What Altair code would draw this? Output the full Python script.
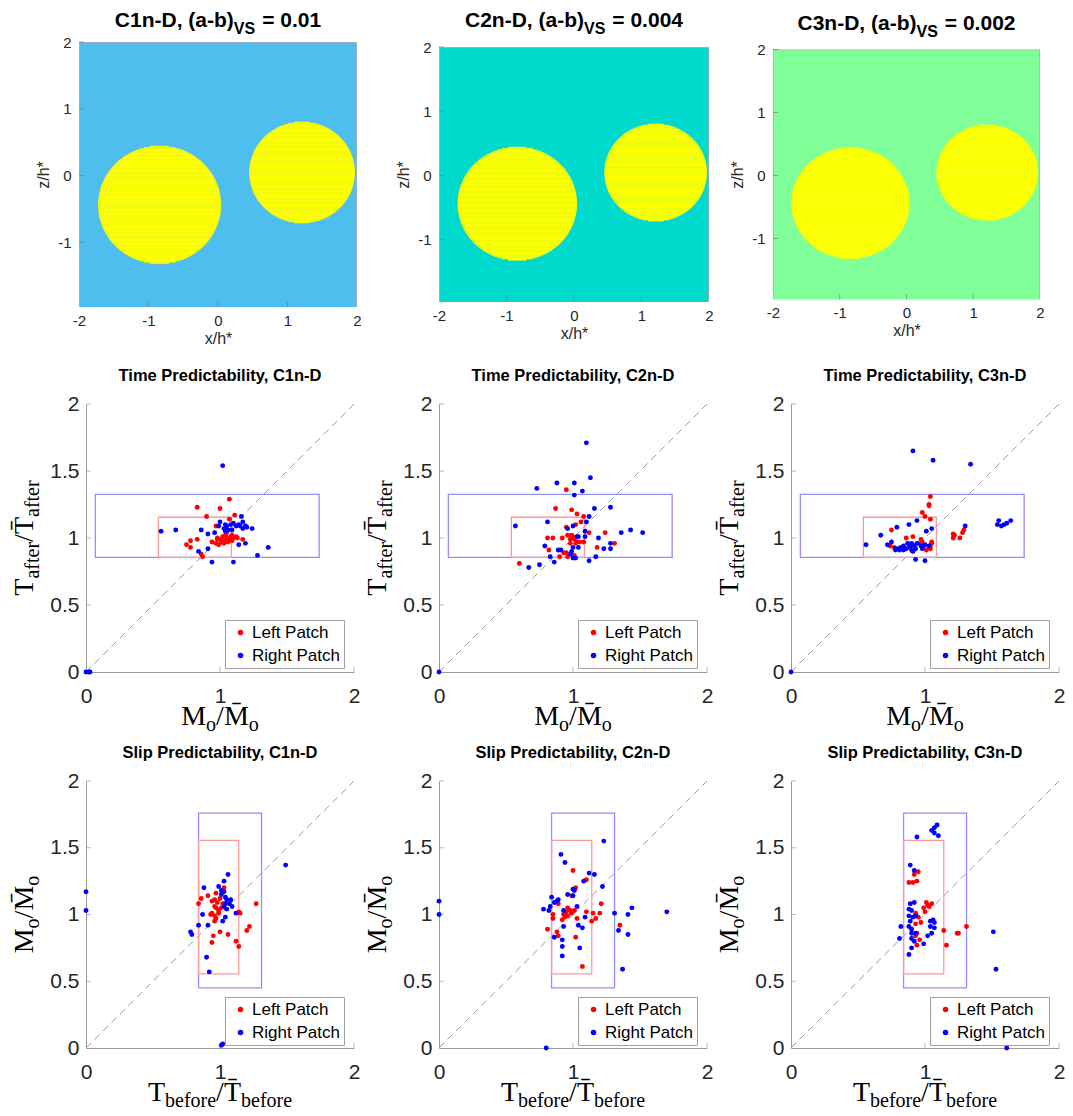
import altair as alt
import pandas as pd
import numpy as np

# ---------------- data ----------------
case_names = ["C1n-D", "C2n-D", "C3n-D"]
ab_values = ["0.01", "0.004", "0.002"]
background_colors = ["#4DBEEE", "#00DACC", "#80FF99"]
patch_color = "#FFFF00"
patch_cx = [-0.84, 1.21]
patch_cz = [-0.44, 0.045]
patch_r = [0.88, 0.755]

# rectangles: [x1, x2, y1, y2]
time_rect_blue = [0.07, 1.74, 0.855, 1.325]
time_rect_red = [0.54, 1.085, 0.855, 1.155]
slip_rect_blue = [0.84, 1.31, 0.45, 1.76]
slip_rect_red = [0.84, 1.14, 0.555, 1.555]

time_c1_left = [[1.07,1.29],[0.83,1.23],[1.00,1.22],[0.90,1.16],[1.11,1.17],[1.07,1.14],[0.97,1.09],[0.83,0.99],
    [0.78,0.98],[0.75,0.95],[0.78,0.93],[0.86,0.88],[0.87,0.86],[1.17,0.99],[0.98,1.00],[1.00,0.99],[1.01,0.97],
    [1.03,0.96],[1.01,0.99],[1.02,1.01],[1.04,1.02],[1.05,1.00],[1.07,0.99],[1.08,1.01],[1.09,1.02],[1.10,1.00],
    [1.12,1.01],[1.13,1.00],[0.99,0.95],[0.97,0.96],[1.04,0.98],[1.02,0.97],[1.06,0.97],[1.09,0.98],[0.94,0.97],
    [0.98,0.99],[1.05,1.04]]
time_c1_right = [[1.02,1.54],[0.56,1.05],[0.67,1.06],[0.86,1.06],[0.91,1.03],[0.96,1.04],[1.00,1.12],[0.99,1.09],
    [1.04,1.10],[1.03,1.07],[1.05,1.09],[1.08,1.10],[1.10,1.11],[1.12,1.09],[1.14,1.10],[1.16,1.16],[1.17,1.12],
    [1.15,1.09],[1.17,1.07],[1.19,1.09],[1.20,1.08],[1.24,1.07],[1.09,1.06],[1.06,1.06],[1.04,1.05],[1.14,0.95],
    [1.19,0.96],[1.36,0.93],[1.28,0.87],[1.10,0.82],[0.94,0.82],[0.84,0.90],[0.91,0.92],[0.0,0.0],[0.02,0.0],[0.03,0.0]]

time_c2_left = [[0.95,1.36],[0.87,1.22],[0.99,1.21],[1.03,1.18],[1.08,1.16],[1.06,1.12],[1.02,1.10],[0.95,1.08],
    [1.12,1.04],[1.24,1.04],[0.96,1.02],[0.99,1.02],[0.85,1.00],[0.81,1.00],[0.92,1.00],[0.98,0.99],[1.01,0.99],
    [1.03,0.97],[1.05,0.97],[1.08,0.97],[0.98,0.96],[1.02,0.96],[1.18,0.93],[1.31,0.96],[0.82,0.91],[0.93,0.89],
    [0.95,0.89],[1.01,0.87],[0.90,0.86],[0.96,0.86],[0.60,0.81],[1.00,1.01],[0.99,1.00]]
time_c2_right = [[1.10,1.71],[0.88,1.41],[1.01,1.41],[1.13,1.45],[0.73,1.37],[1.07,1.35],[1.01,1.32],[1.16,1.22],
    [1.28,1.23],[1.12,1.16],[1.10,1.12],[0.81,1.12],[0.57,1.09],[0.96,1.07],[1.00,1.09],[1.09,1.05],[1.04,1.01],
    [1.03,1.01],[1.09,1.01],[1.19,1.00],[1.36,1.04],[1.43,1.06],[1.52,1.04],[1.28,0.96],[1.28,0.92],[1.23,0.92],
    [1.04,0.93],[1.00,0.93],[0.79,0.94],[0.89,0.91],[0.91,0.91],[0.99,0.90],[0.98,0.88],[0.83,0.86],[1.17,0.86],
    [1.00,0.85],[1.02,0.85],[1.12,0.83],[0.86,0.82],[0.75,0.80],[0.67,0.78],[0.0,0.0]]

time_c3_left = [[1.04,1.31],[1.03,1.25],[1.03,1.24],[0.98,1.19],[1.00,1.16],[1.04,1.14],[0.75,1.06],[0.91,1.01],
    [0.86,1.00],[0.97,0.99],[0.98,0.97],[1.05,0.97],[1.05,0.96],[0.99,0.94],[1.04,0.94],[1.01,0.91],[1.04,0.92],
    [0.74,0.94],[0.77,0.93],[0.83,0.92],[0.88,0.93],[0.95,0.96],[1.21,1.03],[1.21,1.00],[1.26,1.00],[1.28,1.04],
    [1.29,1.06],[1.22,1.02]]
time_c3_right = [[0.91,1.65],[1.06,1.58],[1.34,1.55],[0.94,1.13],[0.88,1.10],[0.79,1.08],[1.05,1.07],[1.01,1.05],
    [0.67,1.02],[1.30,1.09],[0.75,0.97],[0.72,0.95],[0.56,0.95],[1.55,1.13],[1.54,1.10],[1.57,1.09],[1.59,1.10],
    [1.61,1.11],[1.64,1.13],[0.78,0.92],[0.80,0.92],[0.82,0.93],[0.84,0.91],[0.86,0.92],[0.87,0.96],[0.89,0.94],
    [0.90,0.96],[0.92,0.94],[0.93,0.92],[0.94,0.96],[0.97,0.94],[0.98,0.92],[1.00,0.95],[1.03,0.94],[0.84,0.94],
    [0.81,0.91],[0.90,0.91],[0.91,0.90],[0.78,0.91],[0.93,0.84],[1.00,0.83],[0.0,0.0]]

slip_c1_left = [[1.27,1.08],[1.15,1.01],[1.14,1.02],[1.03,1.20],[0.97,1.16],[0.91,1.14],[0.86,1.12],[0.84,1.08],
    [0.94,1.10],[0.96,1.11],[0.98,1.09],[0.96,1.06],[0.97,1.05],[0.94,1.01],[0.93,1.00],[0.96,0.99],[0.96,0.95],
    [0.97,0.97],[0.99,1.01],[1.01,1.05],[1.22,0.91],[1.20,0.88],[0.95,0.84],[1.00,0.87],[1.06,0.85],[0.94,0.79],
    [1.12,0.80],[1.14,0.76],[1.00,1.12],[0.99,1.03],[1.02,1.08]]
slip_c1_right = [[0.0,1.17],[0.0,1.03],[1.49,1.37],[1.06,1.30],[1.03,1.25],[0.88,1.20],[0.99,1.21],[1.01,1.18],
    [1.03,1.17],[1.01,1.15],[1.04,1.13],[1.05,1.11],[1.08,1.11],[1.07,1.08],[1.04,1.08],[1.09,1.06],[1.05,1.04],
    [1.03,1.06],[1.12,1.01],[1.04,0.98],[1.02,0.95],[0.87,1.00],[0.91,0.92],[0.84,0.92],[0.78,0.87],[0.79,0.85],
    [0.90,0.68],[0.92,0.57],[1.01,0.02],[1.02,0.03]]

slip_c2_left = [[1.00,1.33],[1.10,1.26],[1.02,1.20],[0.99,1.14],[1.21,1.08],[0.88,1.09],[0.89,1.08],[0.96,1.05],
    [0.98,1.03],[0.95,1.02],[0.99,1.01],[0.93,1.00],[0.94,0.98],[0.92,0.96],[0.96,0.99],[1.01,1.03],[1.03,0.97],
    [1.10,1.02],[1.15,1.01],[1.17,0.97],[1.20,1.01],[1.14,0.95],[0.85,1.00],[0.85,0.97],[0.81,0.89],[0.88,0.87],
    [0.89,0.84],[1.02,0.83],[1.35,0.92],[1.07,0.61]]
slip_c2_right = [[1.23,1.55],[0.91,1.45],[0.94,1.39],[1.12,1.31],[1.16,1.30],[1.08,1.25],[1.22,1.21],[1.00,1.19],
    [1.01,1.18],[0.96,1.15],[1.00,1.14],[0.84,1.13],[0.89,1.11],[0.88,1.10],[0.86,1.09],[0.78,1.04],[0.82,1.03],
    [0.83,1.06],[0.93,1.03],[1.03,1.06],[1.09,0.98],[1.31,1.01],[1.41,1.00],[1.44,1.05],[1.70,1.02],[1.04,0.92],
    [1.07,0.90],[0.93,0.91],[1.34,0.88],[1.41,0.85],[0.86,0.83],[0.92,0.81],[0.92,0.76],[1.05,0.75],[0.92,0.69],
    [1.37,0.59],[0.80,0.0],[0.0,1.10],[0.0,1.00]]

slip_c3_left = [[0.95,1.32],[0.92,1.30],[0.94,1.25],[0.91,1.24],[0.88,1.24],[1.01,1.09],[1.02,1.07],[1.03,1.06],
    [1.05,1.08],[0.99,1.05],[1.00,1.02],[0.93,1.01],[0.95,0.98],[0.97,0.94],[0.93,0.93],[0.94,0.86],[0.96,0.81],
    [0.94,0.77],[0.93,0.84],[1.14,0.88],[1.16,0.77],[1.24,0.86],[1.25,0.86],[1.31,0.91]]
slip_c3_right = [[1.09,1.67],[1.07,1.65],[1.05,1.63],[1.07,1.61],[1.10,1.59],[0.94,1.58],[0.89,1.37],[0.92,1.33],
    [0.92,1.09],[0.89,1.08],[0.88,1.04],[0.90,1.03],[0.88,0.99],[0.91,0.98],[0.89,0.95],[0.93,0.99],[0.88,0.91],
    [0.90,0.89],[0.90,0.86],[0.93,0.86],[0.82,0.91],[0.81,0.82],[0.90,0.82],[0.92,0.80],[0.99,0.78],[0.90,0.75],
    [0.88,0.70],[1.02,0.84],[1.05,0.86],[1.04,0.91],[1.07,0.90],[1.06,0.96],[1.07,0.94],[1.04,0.95],[1.51,0.87],
    [1.53,0.59],[1.61,0.0]]

top_x_ticks = [-2, -1, 0, 1, 2]
top_y_ticks = [-1, 0, 1, 2]
top_x_domain = [-2, 2]
top_y_domain = [-1.97, 2]
sc_x_ticks = [0, 1, 2]
sc_y_ticks = [0, 0.5, 1, 1.5, 2]
sc_domain = [0, 2]
series_names = ["Left Patch", "Right Patch"]
series_colors = ["#ff0000", "#0000ff"]

# ---------------- helpers ----------------
SANS = "Liberation Sans"
SERIF = "Liberation Serif"
TIMES_W = {'T': 0.611, 'M': 0.889, 'o': 0.5, 'a': 0.444, 'f': 0.333, 't': 0.278, 'e': 0.444,
           'r': 0.333, 'b': 0.5, '/': 0.278}
ARIALB_W = {'C': .722, '1': .556, '2': .556, '3': .556, '4': .556, 'n': .611, '-': .333, 'D': .722,
            ',': .278, ' ': .278, '\u00a0': .278, '(': .333, 'a': .556, 'b': .611, ')': .333, 'V': .667,
            'S': .667, '=': .584, '0': .556, '.': .278}
one_row = pd.DataFrame({"k": [0]})


def seg_w(s, size, table):
    return size * sum(table.get(c, 0.0) for c in s)


def rich(segs, cx, cy, font, weight, table, rotate=False):
    # segs: (text, fontsize, baseline shift, gap before)
    total = sum(seg_w(t, sz, table) + g for t, sz, _, g in segs)
    pos = -total / 2
    out = []
    for t, sz, sh, g in segs:
        pos += g
        if rotate:
            x, y, ang = cx + sh, cy - pos, 270
        else:
            x, y, ang = cx + pos, cy + sh, 0
        out.append(alt.Chart(one_row).mark_text(
            text=t, font=font, fontSize=sz, fontWeight=weight, align="left",
            baseline="alphabetic", angle=ang, color="black").encode(
            x=alt.value(x), y=alt.value(y)))
        pos += seg_w(t, sz, table)
    return out


def spacer(w, h=1):
    return alt.Chart(one_row).mark_point(opacity=0).encode(
        x=alt.X("k:Q", axis=None), y=alt.Y("k:Q", axis=None)).properties(width=w, height=h)


def top_panel(i, w, h, title_rel):
    xs = alt.Scale(domain=top_x_domain, nice=False, zero=False)
    ys = alt.Scale(domain=top_y_domain, nice=False, zero=False)
    xa = alt.Axis(values=top_x_ticks, title="x/h*", labelExpr="'' + datum.value", domain=False,
                  ticks=False, grid=False, labelFont=SANS, labelFontSize=15, labelColor="#262626",
                  labelPadding=6, labelFlush=False, titleFont=SANS, titleFontSize=16,
                  titleFontWeight="normal", titleColor="#262626", titlePadding=2)
    ya = alt.Axis(values=top_y_ticks, title="z/h*", labelExpr="'' + datum.value", domain=False,
                  ticks=False, grid=False, labelFont=SANS, labelFontSize=15, labelColor="#262626",
                  labelPadding=8, labelFlush=False, titleFont=SANS, titleFontSize=16,
                  titleFontWeight="normal", titleColor="#262626", titlePadding=6)
    X = alt.X("x:Q", scale=xs, axis=xa)
    Y = alt.Y("y:Q", scale=ys, axis=ya)
    bg_df = pd.DataFrame({"x": [top_x_domain[0]], "x2": [top_x_domain[1]],
                          "y": [-2.0], "y2": [top_y_domain[1]]})
    bg = alt.Chart(bg_df).mark_rect(fill=background_colors[i], stroke="#b0b0b0",
                                    strokeWidth=1.5, clip=True).encode(
        x=X, x2="x2:Q", y=Y, y2="y2:Q")
    # circular patches drawn as thin horizontal strips (like the gridded original)
    rows = []
    n = 90
    for cx, cz, r in zip(patch_cx, patch_cz, patch_r):
        edges = np.linspace(cz - r, cz + r, n + 1)
        for z0, z1 in zip(edges[:-1], edges[1:]):
            zm = 0.5 * (z0 + z1)
            half = r * np.sqrt(max(0.0, 1 - ((zm - cz) / r) ** 2))
            rows.append({"x": cx - half, "x2": cx + half, "y": z0, "y2": z1})
    circ = alt.Chart(pd.DataFrame(rows)).mark_rect(color=patch_color, opacity=1,
                                                   stroke=patch_color, strokeWidth=0.6).encode(
        x=X, x2="x2:Q", y=Y, y2="y2:Q")
    # small inward ticks (MATLAB style)
    xt = alt.Chart(pd.DataFrame({"x": top_x_ticks[1:-1]})).mark_tick(
        orient="vertical", size=5, thickness=1, color="#7a7a7a").encode(x=X, y=alt.value(h - 2.5))
    yt = alt.Chart(pd.DataFrame({"y": top_y_ticks})).mark_tick(
        orient="horizontal", size=5, thickness=1, color="#7a7a7a").encode(y=Y, x=alt.value(2.5))
    title = rich([(case_names[i] + ", (a-b)", 21, 0, 0), ("VS", 16, 7, 0),
                  ("=\u00a0" + ab_values[i], 21, 0, 7)],
                 w / 2, title_rel, SANS, "bold", ARIALB_W)
    return alt.layer(bg, circ, xt, yt, *title).properties(width=w, height=h)


def scatter_panel(left, right, rb, rr, title, xsegs, ysegs, w, h):
    xs = alt.Scale(domain=sc_domain, nice=False, zero=False)
    ys = alt.Scale(domain=sc_domain, nice=False, zero=False)
    common = dict(title=None, labelExpr="'' + datum.value", domainColor="#9a9a9a", ticks=False,
                  grid=False, labelFont=SANS, labelFontSize=21, labelColor="#262626",
                  labelFlush=False, labelOverlap=False)
    xa = alt.Axis(values=sc_x_ticks, labelPadding=13, **common)
    ya = alt.Axis(values=sc_y_ticks, labelPadding=7, **common)
    X = alt.X("x:Q", scale=xs, axis=xa)
    Y = alt.Y("y:Q", scale=ys, axis=ya)
    diag = alt.Chart(pd.DataFrame({"x": sc_domain, "y": sc_domain})).mark_line(
        color="#9a9a9a", strokeDash=[7, 5], strokeWidth=1).encode(x=X, y=Y)
    rect_df = pd.DataFrame({"x": [rb[0], rr[0]], "x2": [rb[1], rr[1]], "y": [rb[2], rr[2]],
                            "y2": [rb[3], rr[3]], "c": ["#9090ff", "#ff9a9a"]})
    rects = alt.Chart(rect_df).mark_rect(fillOpacity=0, strokeWidth=1.3).encode(
        x=X, x2="x2:Q", y=Y, y2="y2:Q", stroke=alt.Stroke("c:N", scale=None))
    xtk = alt.Chart(pd.DataFrame({"x": sc_x_ticks[1:]})).mark_tick(
        orient="vertical", size=5, thickness=1, color="#9a9a9a").encode(x=X, y=alt.value(h - 2.5))
    ytk = alt.Chart(pd.DataFrame({"y": sc_y_ticks[1:]})).mark_tick(
        orient="horizontal", size=5, thickness=1, color="#9a9a9a").encode(y=Y, x=alt.value(2.5))
    pts_df = pd.DataFrame([{"x": p[0], "y": p[1], "patch": series_names[0]} for p in left] +
                          [{"x": p[0], "y": p[1], "patch": series_names[1]} for p in right])
    pts = alt.Chart(pts_df).mark_circle(size=24, opacity=1).encode(
        x=X, y=Y,
        color=alt.Color("patch:N", scale=alt.Scale(domain=series_names, range=series_colors),
                        legend=alt.Legend(title=None, orient="none", legendX=w - 129, legendY=216,
                                          padding=4,
                                          strokeColor="#a0a0a0", fillColor="#ffffff",
                                          labelFont=SANS, labelFontSize=17, labelColor="black",
                                          symbolType="circle", symbolSize=30, symbolOffset=3,
                                          labelOffset=3, rowPadding=5, symbolStrokeWidth=0)))
    xt = rich(xsegs, w / 2, h + 53, SERIF, "normal", TIMES_W)
    yt = rich(ysegs, -53, h / 2, SERIF, "normal", TIMES_W, rotate=True)
    return alt.layer(diag, rects, xtk, ytk, pts, *xt, *yt).properties(
        width=w, height=h,
        title=alt.TitleParams(title, font=SANS, fontSize=16.5, fontWeight="bold", color="black",
                              offset=9))


M_SEGS = [("M", 28, 0, 0), ("o", 20, 6, 0), ("/", 28, 0, 0), ("M\u0304", 28, 0, 0), ("o", 20, 6, 0)]
TA_SEGS = [("T", 28, 0, 0), ("after", 20, 6, 0), ("/", 28, 0, 0), ("T\u0304", 28, 0, 0), ("after", 20, 6, 0)]
TB_SEGS = [("T", 28, 0, 0), ("before", 20, 6, 0), ("/", 28, 0, 0), ("T\u0304", 28, 0, 0), ("before", 20, 6, 0)]

time_data = [(time_c1_left, time_c1_right), (time_c2_left, time_c2_right), (time_c3_left, time_c3_right)]
slip_data = [(slip_c1_left, slip_c1_right), (slip_c2_left, slip_c2_right), (slip_c3_left, slip_c3_right)]

PW = 268
p1 = top_panel(0, 278, 265, -15)
p2 = top_panel(1, 270, 255, -20)
p3 = top_panel(2, 267, 250, -19.5)

mids = [scatter_panel(l, r, time_rect_blue, time_rect_red, "Time Predictability, " + case_names[i],
                      M_SEGS, TA_SEGS, PW, 268) for i, (l, r) in enumerate(time_data)]
bots = [scatter_panel(l, r, slip_rect_blue, slip_rect_red, "Slip Predictability, " + case_names[i],
                      TB_SEGS, M_SEGS, PW, 267) for i, (l, r) in enumerate(slip_data)]

row1 = alt.hconcat(spacer(71), p1, spacer(82), p2, spacer(64), p3,
                   spacing=0, bounds="flush", center=True)
row2 = alt.hconcat(spacer(78), mids[0], spacer(85), mids[1], spacer(84), mids[2],
                   spacing=0, bounds="flush").resolve_scale(color="independent")
row3 = alt.hconcat(spacer(78), bots[0], spacer(85), bots[1], spacer(84), bots[2],
                   spacing=0, bounds="flush").resolve_scale(color="independent")
lower = alt.vconcat(row2, row3, spacing=9).resolve_scale(color="independent")

chart = alt.vconcat(row1, lower, spacing=21).resolve_scale(color="independent").properties(
    padding={"left": 0, "top": 2, "right": 0, "bottom": 0}, background="white"
).configure_view(stroke=None)

chart.save("out.html", embed_options={"renderer": "svg", "actions": False})
